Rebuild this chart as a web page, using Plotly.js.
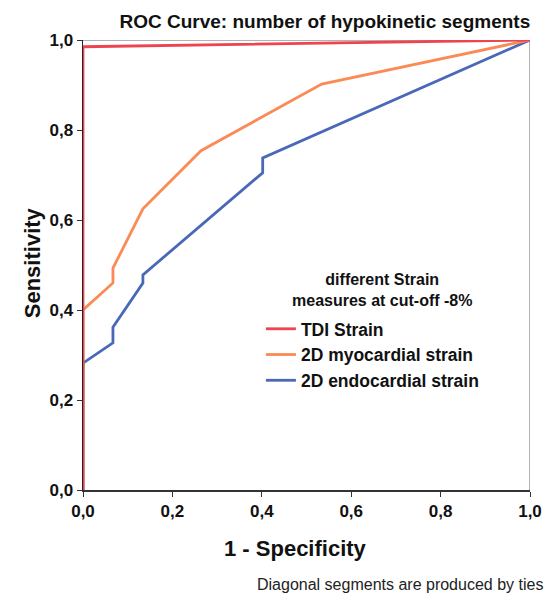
<!DOCTYPE html>
<html><head><meta charset="utf-8">
<script src="https://cdn.plot.ly/plotly-3.0.1.min.js"></script>
<style>html,body{margin:0;padding:0;background:#fff}#c{width:546px;height:599px}</style>
</head><body><div id="c"></div>
<script>
const seriesNames = ["TDI Strain", "2D myocardial strain", "2D endocardial strain"];
const tdiX = [0, 0, 1];
const tdiY = [0, 0.985, 1];
const myoX = [0, 0, 0.067, 0.067, 0.134, 0.264, 0.534, 1];
const myoY = [0, 0.40, 0.46, 0.493, 0.625, 0.754, 0.902, 1];
const endoX = [0, 0, 0.067, 0.067, 0.134, 0.134, 0.402, 0.402, 1];
const endoY = [0, 0.282, 0.327, 0.362, 0.46, 0.478, 0.705, 0.738, 1];
const colors = ["#ee4450", "#fb8a55", "#4a68b8"];
const tickVals = [0, 0.2, 0.4, 0.6, 0.8, 1.0];

const F = "Liberation Sans, Arial, sans-serif";
const xs = [tdiX, myoX, endoX], ys = [tdiY, myoY, endoY];
const traces = [2, 1, 0].map(i => ({
  x: xs[i], y: ys[i], name: seriesNames[i], type: "scatter", mode: "lines",
  line: {color: colors[i], width: 2.8}, cliponaxis: false, legendrank: i
}));

const layout = {
  width: 546, height: 599,
  margin: {l: 83, r: 16, t: 40, b: 109},
  paper_bgcolor: "#fff", plot_bgcolor: "#fff",
  separators: ",.",
  font: {family: F, color: "#111"},
  title: {text: "<b>ROC Curve: number of hypokinetic segments</b>", font: {size: 19, family: F, color: "#111"},
          x: 0.595, xanchor: "center", y: 0.965, yanchor: "middle"},
  xaxis: {range: [0, 1], tickvals: tickVals, tickformat: ".1f", ticks: "outside", ticklen: 5, tickcolor: "#333",
          showgrid: false, zeroline: false, showline: true, linecolor: "#333", linewidth: 1.5,
          tickfont: {size: 17, family: F, color: "#111", weight: "bold"}},
  yaxis: {range: [0, 1], tickvals: tickVals, tickformat: ".1f", ticks: "outside", ticklen: 5, tickcolor: "#333",
          showgrid: false, zeroline: false, showline: true, linecolor: "#222", linewidth: 1.5,
          tickfont: {size: 17, family: F, color: "#111", weight: "bold"}},
  showlegend: true,
  legend: {x: 0.398, y: 0.398, xanchor: "left", yanchor: "top", bgcolor: "rgba(0,0,0,0)",
           font: {size: 17.5, family: F, color: "#111", weight: "bold"}, tracegroupgap: 0, itemwidth: 30,
           traceorder: "normal"},
  shapes: [
    {type: "line", xref: "x", yref: "y", x0: 0, x1: 1, y0: 1, y1: 1, line: {color: "#999", width: 1.5}, layer: "below"},
    {type: "line", xref: "x", yref: "y", x0: 1, x1: 1, y0: 0, y1: 1, line: {color: "#999", width: 1.5}, layer: "below"}
  ],
  annotations: [
    {text: "<b>different Strain<br>measures at cut-off -8%</b>", xref: "paper", yref: "paper", x: 0.67, y: 0.445,
     xanchor: "center", yanchor: "middle", showarrow: false, font: {size: 16, family: F, color: "#111"}},
    {text: "<b>1 - Specificity</b>", xref: "paper", yref: "paper", x: 0.4765, y: -0.129,
     xanchor: "center", yanchor: "middle", showarrow: false, font: {size: 22, family: F, color: "#111"}},
    {text: "<b>Sensitivity</b>", xref: "paper", yref: "paper", x: -0.114, y: 0.504, textangle: -90,
     xanchor: "center", yanchor: "middle", showarrow: false, font: {size: 22, family: F, color: "#111"}},
    {text: "Diagonal segments are produced by ties", xref: "paper", yref: "paper", x: 1.0336, y: -0.211,
     xanchor: "right", yanchor: "middle", showarrow: false, font: {size: 16, family: F, color: "#222"}}
  ]
};
Plotly.newPlot("c", traces, layout, {displayModeBar: false, staticPlot: true});
</script></body></html>
